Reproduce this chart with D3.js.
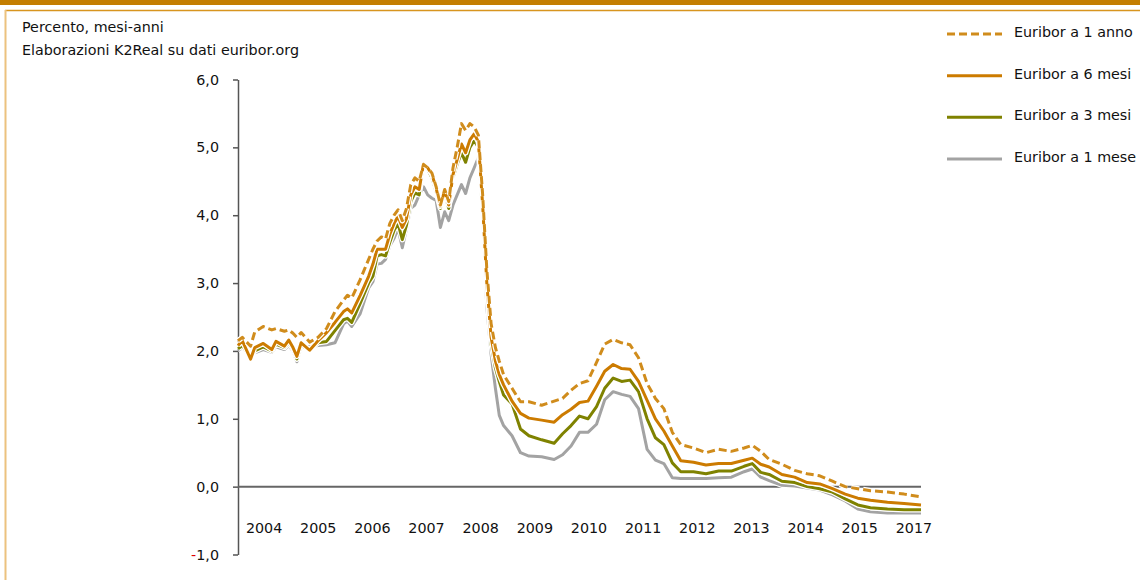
<!DOCTYPE html>
<html>
<head>
<meta charset="utf-8">
<script src="https://cdn.jsdelivr.net/npm/d3@7"></script>
<style>
  body { margin: 0; background: #fff; }
  svg { display: block; font-family: "DejaVu Sans", sans-serif; }
</style>
</head>
<body>
<svg id="chart" width="1140" height="580"></svg>
<script>
// months elapsed since Jan 2004 for each sampled point
const months = [0,1,3,4,6,8,9,11,12,13,14,15,17,19,21,23,25,26,27,29,
  31,32,33,34,35,36,37,38,39,40,41,42,43,44,45,46,47,48,49,50,
  51,52,53,54,55,56,57,58,59,60,61,62,63,65,67,69,72,75,77,79,
  81,83,85,87,89,91,93,95,97,99,101,103,105,108,111,114,117,120,122,124,
  126,129,132,135,138,141,144,147,150,154,158,162];

const euribor12m = [2.15,2.2,2.07,2.28,2.36,2.31,2.33,2.29,2.31,2.26,
  2.2,2.27,2.13,2.2,2.33,2.58,2.75,2.82,2.78,3.05,
  3.35,3.5,3.62,3.68,3.65,3.88,4.0,4.08,3.92,4.1,
  4.45,4.55,4.5,4.75,4.7,4.62,4.42,4.15,4.38,4.2,
  4.7,5.0,5.35,5.25,5.35,5.3,5.18,4.3,3.2,2.4,
  2.05,1.85,1.65,1.45,1.25,1.25,1.2,1.26,1.3,1.42,
  1.52,1.56,1.83,2.1,2.17,2.12,2.09,1.9,1.52,1.3,
  1.15,0.8,0.62,0.57,0.5,0.55,0.52,0.57,0.61,0.52,
  0.4,0.33,0.24,0.19,0.16,0.08,0.0,-0.03,-0.06,-0.08,-0.11,-0.15];

const euribor6m = [2.08,2.15,1.88,2.05,2.11,2.02,2.14,2.07,2.16,2.05,
  1.92,2.12,2.01,2.15,2.27,2.42,2.58,2.62,2.56,2.82,
  3.1,3.28,3.5,3.5,3.5,3.72,3.88,3.98,3.82,3.95,
  4.3,4.42,4.38,4.76,4.7,4.6,4.4,4.13,4.37,4.15,
  4.6,4.82,5.05,4.92,5.11,5.2,5.08,4.15,3.0,2.2,
  1.85,1.65,1.5,1.26,1.08,1.01,0.98,0.95,1.06,1.14,
  1.24,1.26,1.48,1.7,1.8,1.74,1.73,1.55,1.27,1.0,
  0.82,0.6,0.38,0.36,0.32,0.34,0.34,0.39,0.42,0.33,
  0.29,0.18,0.14,0.06,0.04,-0.03,-0.11,-0.17,-0.2,-0.23,-0.25,-0.27];

const euribor3m = [2.03,2.08,1.9,2.0,2.06,2.0,2.1,2.05,2.12,2.03,
  1.88,2.08,2.02,2.12,2.14,2.3,2.46,2.48,2.42,2.7,
  3.0,3.1,3.4,3.42,3.4,3.6,3.78,3.88,3.64,3.85,
  4.2,4.33,4.3,4.74,4.68,4.55,4.35,4.1,4.32,4.1,
  4.55,4.75,4.92,4.78,5.0,5.1,5.0,4.0,2.9,2.1,
  1.75,1.55,1.35,1.22,0.85,0.75,0.69,0.64,0.78,0.9,
  1.04,1.0,1.18,1.45,1.6,1.55,1.57,1.4,1.0,0.72,
  0.62,0.35,0.22,0.22,0.19,0.23,0.23,0.3,0.34,0.21,
  0.18,0.08,0.06,0.0,-0.03,-0.08,-0.18,-0.27,-0.31,-0.33,-0.34,-0.34];

const euribor1m = [2.0,2.05,1.92,1.97,2.02,1.98,2.06,2.02,2.08,2.0,
  1.84,2.05,2.06,2.08,2.09,2.12,2.4,2.44,2.36,2.55,
  2.93,3.02,3.28,3.29,3.35,3.55,3.66,3.8,3.52,3.8,
  4.1,4.15,4.3,4.42,4.3,4.25,4.22,3.82,4.05,3.92,
  4.15,4.3,4.45,4.32,4.55,4.7,4.85,4.0,2.65,1.95,
  1.45,1.05,0.9,0.75,0.5,0.45,0.44,0.4,0.47,0.6,
  0.8,0.8,0.92,1.28,1.4,1.36,1.33,1.15,0.55,0.39,
  0.34,0.13,0.12,0.12,0.12,0.13,0.14,0.22,0.26,0.14,
  0.09,0.02,0.01,-0.02,-0.05,-0.12,-0.21,-0.33,-0.37,-0.39,-0.39,-0.39];

// the source chart skips 2016 on its axis
const yearLabels = ["2004","2005","2006","2007","2008","2009","2010",
  "2011","2012","2013","2014","2015","2017"];
const yTicks = [-1, 0, 1, 2, 3, 4, 5, 6];

const series = [
  { name: "Euribor a 1 mese", values: euribor1m, color: "#a3a3a3", dash: null },
  { name: "Euribor a 3 mesi", values: euribor3m, color: "#7f8200", dash: null },
  { name: "Euribor a 6 mesi", values: euribor6m, color: "#cc7b00", dash: null },
  { name: "Euribor a 1 anno", values: euribor12m, color: "#d08c1c", dash: "8,4" }
];
const legendOrder = ["Euribor a 1 anno", "Euribor a 6 mesi", "Euribor a 3 mesi", "Euribor a 1 mese"];

const fontSize = 14.3;
const textColor = "#111";

const svg = d3.select("#chart");
const start = new Date(2004, 0, 1);
const dates = months.map(m => d3.timeMonth.offset(start, m));

const x = d3.scaleTime()
  .domain([start, d3.timeMonth.offset(start, 162)])
  .range([238, 921]);
const y = d3.scaleLinear().domain([-1, 6]).range([554.5, 79.5]);
const xLabels = d3.scaleBand().domain(yearLabels).range([237, 941]);

// frame
svg.append("rect").attr("x", 0).attr("y", 0).attr("width", 1140).attr("height", 5).attr("fill", "#c47e00");
svg.append("line").attr("x1", 5).attr("x2", 1140).attr("y1", 10.5).attr("y2", 10.5)
  .attr("stroke", "#d8951f").attr("stroke-width", 1.5);
svg.append("line").attr("x1", 5.5).attr("x2", 5.5).attr("y1", 10).attr("y2", 580)
  .attr("stroke", "#ecc27e").attr("stroke-width", 2);

// notes
svg.append("text").attr("x", 22).attr("y", 32).attr("font-size", fontSize).attr("fill", textColor).text("Percento, mesi-anni");
svg.append("text").attr("x", 22).attr("y", 55).attr("font-size", fontSize).attr("fill", textColor).text("Elaborazioni K2Real su dati euribor.org");

// y axis
const yAxis = svg.append("g")
  .attr("transform", "translate(238,0)")
  .call(d3.axisLeft(y).tickValues(yTicks).tickSize(5).tickSizeOuter(0).tickPadding(14)
    .tickFormat(d => d3.format(".1f")(Math.abs(d)).replace(".", ",")));
yAxis.select(".domain").attr("stroke", "#555").attr("stroke-width", 1.5);
yAxis.selectAll(".tick line").attr("stroke", "#555").attr("stroke-width", 1.5);
yAxis.selectAll(".tick text")
  .attr("font-size", fontSize).attr("fill", textColor).attr("font-family", "DejaVu Sans, sans-serif")
  .each(function (d) {
    if (d < 0) {
      const t = d3.select(this);
      const label = t.text();
      t.text(null);
      t.append("tspan").attr("fill", "#e00000").text("-");
      t.append("tspan").text(label);
    }
  });

// zero line
svg.append("line")
  .attr("x1", x.range()[0]).attr("x2", x.range()[1])
  .attr("y1", y(0)).attr("y2", y(0))
  .attr("stroke", "#666").attr("stroke-width", 2);

// year labels
svg.append("g").selectAll("text")
  .data(yearLabels)
  .join("text")
  .attr("x", d => xLabels(d) + xLabels.bandwidth() / 2)
  .attr("y", 533)
  .attr("text-anchor", "middle")
  .attr("font-size", fontSize)
  .attr("fill", textColor)
  .text(d => d);

// lines, each with a thin white halo
const line = d3.line()
  .x((d, i) => x(dates[i]))
  .y(d => y(d));

const lines = svg.append("g");
series.forEach(s => {
  lines.append("path")
    .attr("d", line(s.values))
    .attr("fill", "none")
    .attr("stroke", "#fff")
    .attr("stroke-width", 5.5)
    .attr("stroke-linejoin", "round")
    .attr("stroke-dasharray", s.dash);
  lines.append("path")
    .attr("d", line(s.values))
    .attr("fill", "none")
    .attr("stroke", s.color)
    .attr("stroke-width", 3)
    .attr("stroke-linejoin", "round")
    .attr("stroke-dasharray", s.dash);
});

// legend
const legendY = d3.scalePoint().domain(legendOrder).range([34, 159]);
const legend = svg.append("g").selectAll("g")
  .data(legendOrder.map(n => series.find(s => s.name === n)))
  .join("g")
  .attr("transform", d => `translate(0,${legendY(d.name)})`);
legend.append("line")
  .attr("x1", 947).attr("x2", 1002)
  .attr("stroke", d => d.color)
  .attr("stroke-width", 3)
  .attr("stroke-dasharray", d => d.dash);
legend.append("text")
  .attr("x", 1014).attr("y", -2)
  .attr("dominant-baseline", "central")
  .attr("font-size", fontSize)
  .attr("fill", textColor)
  .text(d => d.name);
</script>
</body>
</html>
